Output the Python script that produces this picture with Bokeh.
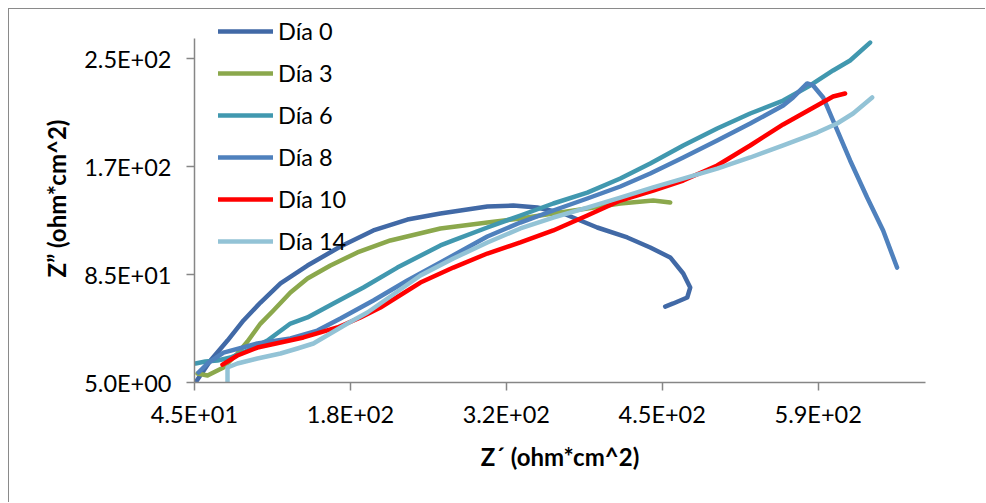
from bokeh.plotting import figure
from bokeh.models import Range1d, FixedTicker, Legend, LegendItem
from bokeh.embed import file_html
from bokeh.resources import INLINE

# ---- axis ticks ----
x_ticks = [45, 181.5, 318, 454.5, 591]
x_tick_labels = ["4.5E+01", "1.8E+02", "3.2E+02", "4.5E+02", "5.9E+02"]
y_ticks = [5, 85, 165, 245]
y_tick_labels = ["5.0E+00", "8.5E+01", "1.7E+02", "2.5E+02"]

series_names = ["Día 0", "Día 3", "Día 6", "Día 8", "Día 10", "Día 14"]

# ---- data (Z', Z'') ----
day0_x = [45.9, 59, 73.9, 87.9, 102.8, 120.3, 143.9, 172.8, 201.6, 231.4, 260.3, 301.4, 324.1,
          345.1, 367.9, 397.6, 423.9, 444, 461.5, 472.9, 479, 476.4, 464.1, 457.1]
day0_y = [5, 21.3, 36.1, 51, 64.3, 78.4, 91.7, 105.8, 117.7, 125.8, 130.3, 135.5, 136.2,
          134.7, 130.3, 119.9, 112.5, 105.1, 97.7, 85.8, 75.4, 68, 63.6, 61.3]

day3_x = [47.6, 56.4, 61.6, 70.4, 82.6, 91.4, 102.8, 114.1, 129, 143.9, 164, 187.6, 216.5,
          260.3, 301.4, 330.3, 359.1, 388.9, 417.8, 446.6, 461.5]
day3_y = [11.7, 10.2, 12.4, 16.1, 26.5, 35.4, 48.7, 58.4, 71.7, 82.1, 91.7, 101.4, 110.3,
          119.2, 123.6, 126.6, 130.3, 134, 137.7, 139.9, 138.4]

day6_x = [45.9, 54.6, 65.1, 76.5, 91.4, 108.9, 129, 143.9, 166.6, 192.9, 222.6, 260.3, 271.6,
          301.4, 330.3, 359.1, 388.9, 417.8, 444, 472.9, 502.6, 531.5, 560.4, 584, 604.1, 619, 636.5]
day6_y = [19.1, 20.6, 21.3, 23.5, 28.7, 36.1, 48.7, 53.2, 63.6, 75.4, 90.2, 106.6, 110.3,
          119.9, 128.8, 137.7, 145.8, 156.2, 167.3, 180.7, 193.3, 204.4, 214, 225.2, 236.3, 243.7, 257]

day8_x = [48.5, 56.4, 70.4, 100.1, 129, 152.6, 172.8, 201.6, 231.4, 260.3, 301.4, 330.3, 359.1,
          388.9, 417.8, 444, 472.9, 502.6, 531.5, 560.4, 569.1, 581.4, 586.6, 595.4, 604.1, 619,
          633.9, 647.9, 660.1]
day8_y = [12.4, 19.1, 27.2, 33.9, 37.6, 43.5, 52.4, 65.8, 80.6, 94, 113.2, 123.6, 132.5,
          141.4, 150.3, 159.9, 171.8, 184.4, 197, 210.3, 216.3, 226.7, 225.2, 216.3, 199.2, 169.6,
          142.1, 117.7, 90.2]

day10_x = [69.5, 82.6, 100.1, 120.3, 140.4, 155.3, 170.1, 190.3, 207.8, 242.8, 271.6, 301.4, 330.3,
           359.1, 388.9, 417.8, 446.6, 472.9, 502.6, 531.5, 560.4, 590.1, 604.1, 614.6]
day10_y = [18.3, 25, 30.9, 34.7, 38.4, 42.1, 45.8, 53.2, 60.6, 79.1, 90.2, 100.6, 108.8,
           117.7, 128.8, 139.9, 147.3, 154.7, 165.9, 180.7, 196.3, 210.3, 217, 219.2]

day14_x = [73.9, 73.9, 82.6, 100.1, 120.3, 135.1, 149.1, 164, 178.9, 196.4, 242.8, 271.6, 301.4,
           330.3, 359.1, 388.9, 417.8, 446.6, 472.9, 502.6, 531.5, 560.4, 590.1, 607.6, 621.6, 638.3]
day14_y = [4.3, 16.1, 19.1, 22.8, 26.5, 30.2, 33.9, 41.3, 48.7, 56.9, 84.3, 96.9, 108.8,
           119.2, 127.3, 134.7, 142.1, 149.6, 156.2, 163.6, 171.8, 180.7, 190.3, 197, 204.4, 216.3]

series_x = [day0_x, day3_x, day6_x, day8_x, day10_x, day14_x]
series_y = [day0_y, day3_y, day6_y, day8_y, day10_y, day14_y]
colors = ["#4169A6", "#8BA84C", "#4198AF", "#4F81BD", "#FF0000", "#93C3D6"]

FONT = "Lato"
Y_AXIS_TOP = 260

# frame extends a little above the y-axis end so the legend (drawn inside the frame) is not clipped
p = figure(width=977, height=494, output_backend="svg", toolbar_location=None,
           x_range=Range1d(45, 685), y_range=Range1d(5, 277.8),
           min_border_left=185, min_border_right=61, min_border_top=5, min_border_bottom=121)
p.styles = {"margin-left": "8px", "margin-top": "8px",
            "border-left": "1px solid #8a8a8a", "border-top": "1px solid #8a8a8a"}
p.outline_line_color = None
p.xgrid.visible = False
p.ygrid.visible = False
p.background_fill_color = "white"
p.border_fill_color = "white"

renderers = []
for xs, ys, c in zip(series_x, series_y, colors):
    r = p.line(xs, ys, line_color=c, line_width=4.5, line_join="round", line_cap="round")
    renderers.append(r)

for ax in (p.xaxis[0], p.yaxis[0]):
    ax.axis_line_color = "#868686"
    ax.axis_line_width = 1.5
    ax.major_tick_line_color = "#868686"
    ax.major_tick_line_width = 1.5
    ax.major_tick_in = 0
    ax.major_tick_out = 8
    ax.minor_tick_line_color = None
    ax.major_label_text_font = FONT
    ax.major_label_text_font_size = "23.5px"
    ax.major_label_text_color = "black"
    ax.axis_label_text_font = FONT
    ax.axis_label_text_font_size = "24px"
    ax.axis_label_text_font_style = "bold"
    ax.axis_label_text_color = "black"

p.yaxis.bounds = (5, Y_AXIS_TOP)
p.xaxis.ticker = FixedTicker(ticks=x_ticks)
p.xaxis.major_label_overrides = dict(zip(x_ticks, x_tick_labels))
p.yaxis.ticker = FixedTicker(ticks=y_ticks)
p.yaxis.major_label_overrides = dict(zip(y_ticks, y_tick_labels))
p.xaxis.axis_label = "Z\u00b4 (ohm*cm^2)"
p.yaxis.axis_label = "Z\u201d (ohm*cm^2)"
p.xaxis.major_label_standoff = 9
p.xaxis.axis_label_standoff = 11
p.yaxis.major_label_standoff = 15
p.yaxis.axis_label_standoff = 10

items = [LegendItem(label=n, renderers=[r]) for n, r in zip(series_names, renderers)]
legend = Legend(items=items, location=(24, 126), orientation="vertical",
                border_line_color=None, background_fill_alpha=0,
                padding=0, margin=0, spacing=12,
                glyph_width=55, glyph_height=30, label_height=30,
                label_standoff=5, label_text_font=FONT, label_text_font_size="23.5px",
                label_text_color="black")
p.add_layout(legend, "center")

open("out.html", "w").write(file_html(p, INLINE))
